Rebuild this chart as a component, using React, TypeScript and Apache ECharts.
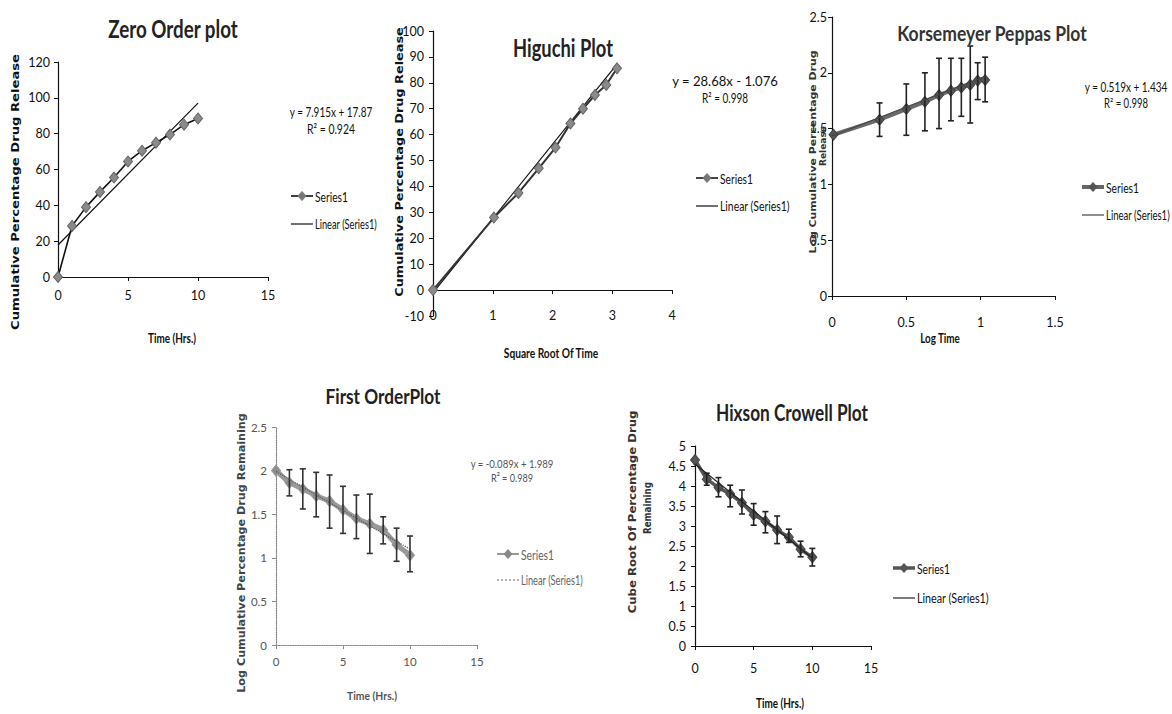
import React, { useEffect, useRef } from 'react';
import * as echarts from 'echarts';

// ---------- data ----------
const zeroTime = [0, 1, 2, 3, 4, 5, 6, 7, 8, 9, 10];
const zeroRelease = [0, 28.5, 39, 47.5, 55.5, 64.5, 70.5, 75, 79.5, 85, 88.5];
const zeroFit = [7.915, 17.87];

const higuchiSqrtTime = [0, 1.02, 1.43, 1.77, 2.05, 2.3, 2.51, 2.71, 2.9, 3.08];
const higuchiRelease = [0, 28, 37.5, 47, 55, 64.3, 70, 75.3, 79.2, 85.6];
const higuchiFit = [28.68, -1.076];

const kpLogTime = [0.01, 0.32, 0.5, 0.625, 0.72, 0.8, 0.87, 0.93, 0.98, 1.03];
const kpLogRelease = [1.445, 1.58, 1.675, 1.74, 1.8, 1.84, 1.868, 1.892, 1.93, 1.935];
const kpErrLow = [null, 1.43, 1.44, 1.48, 1.5, 1.57, 1.61, 1.55, 1.76, 1.74];
const kpErrHigh = [null, 1.73, 1.9, 2.0, 2.13, 2.13, 2.13, 2.24, 2.09, 2.14];
const kpFit = [0.519, 1.434];

const firstTime = [0, 1, 2, 3, 4, 5, 6, 7, 8, 9, 10];
const firstLogRemain = [2.0, 1.86, 1.79, 1.71, 1.65, 1.55, 1.45, 1.39, 1.32, 1.15, 1.03];
const firstErrLow = [null, 1.71, 1.56, 1.47, 1.34, 1.28, 1.22, 1.05, 1.16, 0.96, 0.84];
const firstErrHigh = [null, 2.01, 2.02, 1.98, 1.95, 1.82, 1.72, 1.73, 1.47, 1.34, 1.25];
const firstFit = [-0.089, 1.989];

const hixTime = [0, 1, 2, 3, 4, 5, 6, 7, 8, 9, 10];
const hixCubeRoot = [4.65, 4.17, 3.96, 3.8, 3.58, 3.28, 3.12, 2.9, 2.72, 2.42, 2.22];
const hixErrLow = [null, 4.02, 3.73, 3.48, 3.3, 3.02, 2.83, 2.56, 2.59, 2.23, 2.0];
const hixErrHigh = [null, 4.32, 4.21, 4.02, 3.9, 3.56, 3.36, 3.25, 2.92, 2.62, 2.44];
const hixFit = [-0.235, 4.55];

const titles = ['Zero Order plot', 'Higuchi Plot', 'Korsemeyer Peppas Plot', 'First OrderPlot', 'Hixson Crowell Plot'];
const equations = ['y = 7.915x + 17.87', 'y = 28.68x - 1.076', 'y = 0.519x + 1.434', 'y = -0.089x + 1.989'];
const r2Labels = ['R\u00b2 = 0.924', 'R\u00b2 = 0.998', 'R\u00b2 = 0.998', 'R\u00b2 = 0.989'];

// ---------- styling ----------
const NARROW = 'Lato, "Liberation Sans", sans-serif';
const WIDE = '"DejaVu Sans", Verdana, sans-serif';

let measureCtx: CanvasRenderingContext2D | null = null;
function textWidth(text: string, size: number, family: string, weight: string) {
  if (!measureCtx) measureCtx = document.createElement('canvas').getContext('2d');
  if (!measureCtx) return 0;
  measureCtx.font = `${weight} ${size}px ${family}`;
  return measureCtx.measureText(text).width;
}

function pts(xs: number[], ys: number[]) {
  return xs.map((x, i) => [x, ys[i]]);
}

function errorBars(xIdx: number, yIdx: number, xs: number[], lo: (number | null)[], hi: (number | null)[], color: string) {
  const data = xs
    .map((x, i) => (lo[i] == null || hi[i] == null ? null : [x, lo[i], hi[i]]))
    .filter((d) => d !== null);
  return {
    type: 'custom',
    xAxisIndex: xIdx,
    yAxisIndex: yIdx,
    z: 6,
    silent: true,
    data,
    encode: { x: 0, y: [1, 2] },
    renderItem: (_p: any, api: any) => {
      const x = api.value(0);
      const top = api.coord([x, api.value(2)]);
      const bot = api.coord([x, api.value(1)]);
      const w = 3;
      const style = { stroke: color, lineWidth: 1.6 };
      return {
        type: 'group',
        children: [
          { type: 'line', shape: { x1: top[0], y1: top[1], x2: bot[0], y2: bot[1] }, style },
          { type: 'line', shape: { x1: top[0] - w, y1: top[1], x2: top[0] + w, y2: top[1] }, style },
          { type: 'line', shape: { x1: bot[0] - w, y1: bot[1], x2: bot[0] + w, y2: bot[1] }, style },
        ],
      };
    },
  };
}

function fitLine(xIdx: number, yIdx: number, fit: number[], x0: number, x1: number, color: string, type: any = 'solid', z = 4) {
  return {
    type: 'line',
    xAxisIndex: xIdx,
    yAxisIndex: yIdx,
    data: [
      [x0, fit[0] * x0 + fit[1]],
      [x1, fit[0] * x1 + fit[1]],
    ],
    symbol: 'none',
    silent: true,
    lineStyle: { color, width: 1.2, type },
    z,
  };
}

function mainLine(xIdx: number, yIdx: number, data: number[][], lineColor: string, width: number, fill: string, border: string, size = 10) {
  return {
    type: 'line',
    xAxisIndex: xIdx,
    yAxisIndex: yIdx,
    data,
    symbol: 'diamond',
    symbolSize: [size - 1, size + 1],
    showAllSymbol: true,
    silent: true,
    clip: false,
    lineStyle: { color: lineColor, width },
    itemStyle: { color: fill, borderColor: border, borderWidth: 1 },
    z: 5,
  };
}

function axisBase(grid: number, min: number, max: number, interval: number, margin: number, color = '#111', dotted = false) {
  return {
    type: 'value',
    gridIndex: grid,
    min,
    max,
    interval,
    splitLine: { show: false },
    axisLine: { show: true, onZero: false, lineStyle: { color: dotted ? '#888' : '#111', width: 1.2, type: dotted ? 'dotted' : 'solid' } },
    axisTick: { show: true, length: 4, lineStyle: { color: dotted ? '#888' : '#111' } },
    axisLabel: { color, fontFamily: NARROW, fontSize: 12.5, margin },
  };
}

function textEl(text: string, x: number, y: number, size: number, opts: any = {}) {
  const family = opts.family || NARROW;
  const weight = opts.weight || 'normal';
  let scaleX = 1;
  if (opts.width) {
    const w = textWidth(text, size, family, weight);
    if (w > 0) scaleX = opts.width / w;
  }
  return {
    type: 'text',
    x,
    y,
    rotation: opts.rotation || 0,
    scaleX,
    scaleY: 1,
    silent: true,
    z: 50,
    style: {
      text,
      fontSize: size,
      fontFamily: family,
      fontWeight: weight,
      fill: opts.color || '#111',
      align: opts.align || 'center',
      textAlign: opts.align || 'center',
      verticalAlign: 'middle',
      textVerticalAlign: 'middle',
    },
  };
}

function legendEls(x: number, y1: number, y2: number, sColor: string, sWidth: number, mColor: string, lColor: string, tColor: string, linW: number, lType: any = 'solid') {
  const cx = x + 11;
  return [
    { type: 'line', silent: true, z: 50, shape: { x1: x, y1, x2: x + 22, y2: y1 }, style: { stroke: sColor, lineWidth: sWidth } },
    {
      type: 'polygon',
      silent: true,
      z: 51,
      shape: { points: [[cx, y1 - 4.5], [cx + 4, y1], [cx, y1 + 4.5], [cx - 4, y1]] },
      style: { fill: mColor, stroke: mColor },
    },
    textEl('Series1', x + 24, y1, 13, { align: 'left', color: tColor, width: 33 }),
    { type: 'line', silent: true, z: 50, shape: { x1: x, y1: y2, x2: x + 22, y2 }, style: { stroke: lColor, lineWidth: 1.2, lineDash: lType === 'dotted' ? [2, 2] : null } },
    textEl('Linear (Series1)', x + 24, y2, 13, { align: 'left', color: tColor, width: linW }),
  ];
}

const UP = Math.PI / 2;

export default function App() {
  const ref = useRef<HTMLDivElement>(null);
  useEffect(() => {
    if (!ref.current) return;
    const chart = echarts.init(ref.current, null, { renderer: 'svg' });

    const grids = [
      { left: 58, top: 62, width: 210, height: 215 },
      { left: 433, top: 31, width: 239, height: 285 },
      { left: 832, top: 17, width: 223, height: 279 },
      { left: 276, top: 427, width: 201, height: 218 },
      { left: 695, top: 446, width: 176, height: 200 },
    ];

    const higuchiX: any = axisBase(1, 0, 4, 1, 8);
    higuchiX.position = 'bottom';
    higuchiX.axisLine.onZero = true;
    higuchiX.axisLabel = { show: false };
    const higuchiXLabels: any = axisBase(1, 0, 4, 1, 8);
    higuchiXLabels.position = 'bottom';
    higuchiXLabels.axisLine = { show: false, onZero: false };
    higuchiXLabels.axisTick = { show: false };
    higuchiXLabels.offset = -15;

    const firstX: any = axisBase(3, 0, 15, 5, 10, '#555', true);
    firstX.axisLabel.fontSize = 11.5;
    const firstY: any = axisBase(3, 0, 2.5, 0.5, 9, '#555', true);
    firstY.axisLabel.fontSize = 11.5;

    const xAxis = [
      axisBase(0, 0, 15, 5, 12),
      higuchiX,
      higuchiXLabels,
      axisBase(2, 0, 1.5, 0.5, 20),
      firstX,
      axisBase(4, 0, 15, 5, 16),
    ];
    const yAxis = [
      axisBase(0, 0, 120, 20, 8),
      axisBase(1, -10, 100, 10, 9),
      axisBase(2, 0, 2.5, 0.5, 5),
      firstY,
      axisBase(4, 0, 5, 0.5, 9),
    ];

    const series: any[] = [
      // Zero order
      fitLine(0, 0, zeroFit, 0, zeroTime[zeroTime.length - 1], '#111'),
      mainLine(0, 0, pts(zeroTime, zeroRelease), '#111', 1.6, '#8a8a8a', '#666'),
      // Higuchi
      fitLine(1, 1, higuchiFit, 0, higuchiSqrtTime[higuchiSqrtTime.length - 1], '#111'),
      mainLine(1, 1, pts(higuchiSqrtTime, higuchiRelease), '#333', 2, '#8a8a8a', '#666'),
      // Korsmeyer-Peppas
      mainLine(3, 2, pts(kpLogTime, kpLogRelease), '#6a6a6a', 4, '#555', '#444'),
      fitLine(3, 2, kpFit, 0, kpLogTime[kpLogTime.length - 1], '#444', 'solid', 6),
      errorBars(3, 2, kpLogTime, kpErrLow, kpErrHigh, '#222'),
      // First order
      mainLine(4, 3, pts(firstTime, firstLogRemain), '#9a9a9a', 5, '#8c8c8c', '#999'),
      fitLine(4, 3, firstFit, 0, firstTime[firstTime.length - 1], '#555', 'dotted', 6),
      errorBars(4, 3, firstTime, firstErrLow, firstErrHigh, '#333'),
      // Hixson-Crowell
      mainLine(5, 4, pts(hixTime, hixCubeRoot), '#555', 3.5, '#555', '#444'),
      fitLine(5, 4, hixFit, 0, hixTime[hixTime.length - 1], '#222', 'solid', 6),
      errorBars(5, 4, hixTime, hixErrLow, hixErrHigh, '#222'),
    ];

    const B = 'bold';
    const graphic: any[] = [
      // titles
      textEl(titles[0], 173, 28, 25, { weight: B, color: '#222', width: 130 }),
      textEl(titles[1], 563, 47, 25, { weight: B, color: '#222', width: 100 }),
      textEl(titles[2], 992, 33, 21, { weight: B, color: '#333', width: 190 }),
      textEl(titles[3], 383, 396, 21, { weight: B, color: '#222', width: 115 }),
      textEl(titles[4], 792, 412, 23, { weight: B, color: '#222', width: 152 }),
      // y axis names
      textEl('Cumulative Percentage Drug Release', 15, 192, 11, { weight: B, family: WIDE, rotation: UP, width: 276 }),
      textEl('Cumulative Percentage Drug Release', 399, 162, 11, { weight: B, family: WIDE, rotation: UP, width: 270 }),
      textEl('Log Cumulative Percentage Drug', 813, 152, 9.5, { weight: B, family: WIDE, rotation: UP, color: '#333', width: 203 }),
      textEl('Release', 822, 146, 9.5, { weight: B, family: WIDE, rotation: UP, color: '#333', width: 40 }),
      textEl('Log Cumulative Percentage Drug Remaining', 242, 553, 10, { weight: B, family: WIDE, rotation: UP, color: '#444', width: 280 }),
      textEl('Cube Root Of Percentage Drug', 633, 512, 10.5, { weight: B, family: WIDE, rotation: UP, color: '#333', width: 203 }),
      textEl('Remaining', 647, 508, 10.5, { weight: B, family: WIDE, rotation: UP, color: '#333', width: 52 }),
      // x axis names
      textEl('Time (Hrs.)', 172, 338, 13, { weight: B, width: 48 }),
      textEl('Square Root Of Time', 551, 352, 13, { weight: B, width: 95 }),
      textEl('Log Time', 940, 338, 13, { weight: B, width: 40 }),
      textEl('Time (Hrs.)', 372, 695, 12, { weight: B, color: '#555', width: 50 }),
      textEl('Time (Hrs.)', 780, 703, 13, { weight: B, width: 48 }),
      // equations
      textEl(equations[0], 331, 112, 14, { width: 83 }),
      textEl(r2Labels[0], 331, 129, 14, { width: 48 }),
      textEl(equations[1], 725, 81, 14, { width: 106 }),
      textEl(r2Labels[1], 725, 98, 14, { width: 46 }),
      textEl(equations[2], 1126, 87, 13, { width: 83 }),
      textEl(r2Labels[2], 1126, 103, 13, { width: 44 }),
      textEl(equations[3], 512, 463, 12, { color: '#555', width: 83 }),
      textEl(r2Labels[3], 512, 477, 12, { color: '#555', width: 42 }),
      // legends
      ...legendEls(291, 196, 224, '#111', 1.6, '#777', '#111', '#111', 62),
      ...legendEls(696, 178, 206, '#333', 1.8, '#777', '#111', '#111', 70),
      ...legendEls(1082, 187, 215, '#666', 4, '#555', '#444', '#111', 64),
      ...legendEls(497, 554, 580, '#999', 2, '#888', '#666', '#666', 62, 'dotted'),
      ...legendEls(893, 568, 598, '#555', 3.5, '#555', '#222', '#111', 72),
    ];

    chart.setOption({
      animation: false,
      backgroundColor: '#ffffff',
      grid: grids,
      xAxis,
      yAxis,
      series,
      graphic,
    });
    return () => chart.dispose();
  }, []);
  return <div ref={ref} style={{ position: 'absolute', left: 0, top: 0, width: 1172, height: 714, background: '#fff' }} />;
}
